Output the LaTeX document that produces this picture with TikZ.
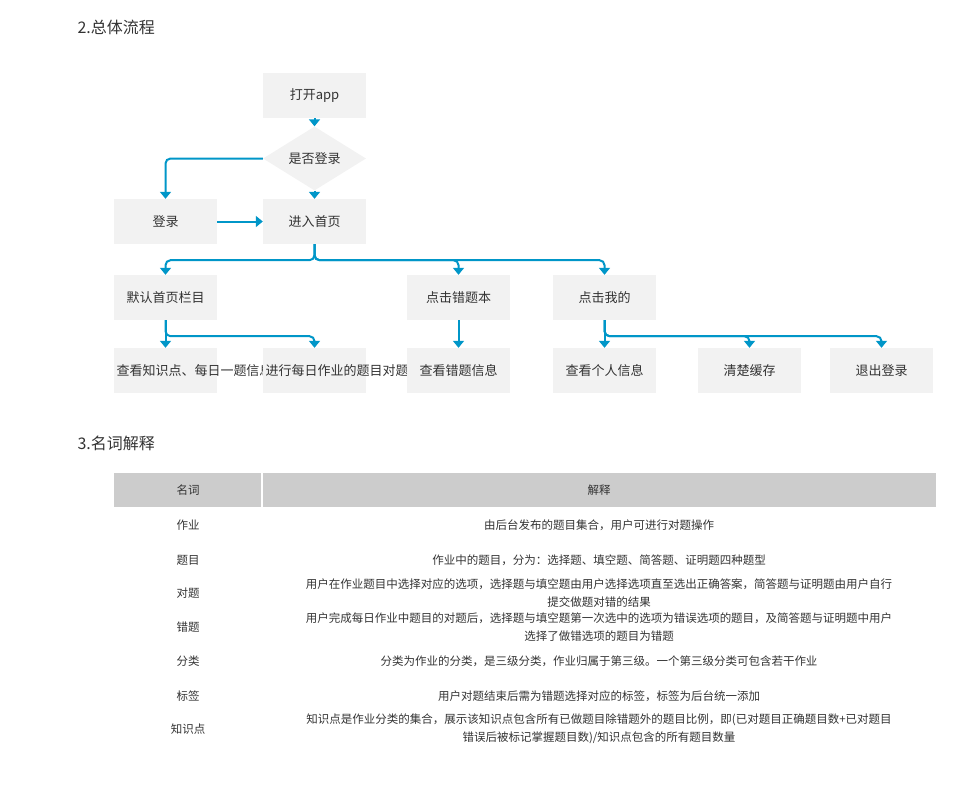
\documentclass[tikz,border=0pt]{standalone}
\usepackage{fontspec}
\setmainfont{Noto Sans CJK SC}
\usetikzlibrary{arrows.meta,shapes.geometric}
\definecolor{ln}{RGB}{0,150,200}
\definecolor{bx}{RGB}{242,242,242}
\definecolor{tx}{RGB}{51,51,51}
\definecolor{hd}{RGB}{204,204,204}
\begin{document}
\begin{tikzpicture}[x=1pt,y=-1pt,
  box/.style={fill=bx,minimum width=103pt,minimum height=45pt,inner sep=1pt,align=center,font=\fontsize{13}{14.5}\selectfont,text=tx,text width=98pt},
  con/.style={draw=ln,line width=2pt,rounded corners=5pt,-{Triangle[width=11pt,length=7pt]}},
  cell/.style={font=\fontsize{11.5}{18}\selectfont,text=tx,align=center}]
\useasboundingbox (0,0) rectangle (970,809);
\node[anchor=west,font=\fontsize{16}{18}\selectfont,text=tx] (h1) at (74,27) {2.总体流程};
\node[anchor=west,font=\fontsize{16}{18}\selectfont,text=tx] (h2) at (74,443) {3.名词解释};
\node[box] (open) at (314.5,95.5) {打开app};
\node[diamond,fill=bx,minimum width=103pt,minimum height=45pt,inner sep=0pt,font=\fontsize{13}{14.5}\selectfont,text=tx] (q) at (314.5,158.5) {是否登录};
\node[box] (login) at (165.5,221.5) {登录};
\node[box] (home) at (314.5,221.5) {进入首页};
\node[box] (def) at (165.5,297.5) {默认首页栏目};
\node[box] (wrong) at (458.5,297.5) {点击错题本};
\node[box] (me) at (604.5,297.5) {点击我的};
\node[box] (know) at (165.5,370.5) {查看知识点、每日一题信息};
\node[box] (daily) at (314.5,370.5) {进行每日作业的题目对题};
\node[box] (wi) at (458.5,370.5) {查看错题信息};
\node[box] (pi) at (604.5,370.5) {查看个人信息};
\node[box] (cc) at (749.5,370.5) {清楚缓存};
\node[box] (lo) at (881.5,370.5) {退出登录};
\draw[con] (open) -- (q);
\draw[con] (q) -- (home);
\draw[con] (q.west) -| (login.north);
\draw[con] (login) -- (home);
\draw[con] (home.south) -- ++(0,16) -| (def.north);
\draw[con] (home.south) -- ++(0,16) -| (wrong.north);
\draw[con] (home.south) -- ++(0,16) -| (me.north);
\draw[con] (def.south) -- ++(0,16) -| (know.north);
\draw[con] (def.south) -- ++(0,16) -| (daily.north);
\draw[con] (wrong) -- (wi);
\draw[con] (me.south) -- ++(0,16) -| (pi.north);
\draw[con] (me.south) -- ++(0,16) -| (cc.north);
\draw[con] (me.south) -- ++(0,16) -| (lo.north);
% table
\fill[hd] (114,473) rectangle (936,507);
\draw[white,line width=1.2pt] (262,473) -- (262,507);
\node[cell] (t0) at (188,490) {名词};
\node[cell] (e0) at (599,490) {解释};
\node[cell] (t1) at (188,525) {作业};
\node[cell] (e1) at (599,525) {由后台发布的题目集合，用户可进行对题操作};
\node[cell] (t2) at (188,560) {题目};
\node[cell] (e2) at (599,560) {作业中的题目，分为：选择题、填空题、简答题、证明题四种题型};
\node[cell] (t3) at (188,593) {对题};
\node[cell] (e3) at (599,593) {用户在作业题目中选择对应的选项，选择题与填空题由用户选择选项直至选出正确答案，简答题与证明题由用户自行\\提交做题对错的结果};
\node[cell] (t4) at (188,627) {错题};
\node[cell] (e4) at (599,627) {用户完成每日作业中题目的对题后，选择题与填空题第一次选中的选项为错误选项的题目，及简答题与证明题中用户\\选择了做错选项的题目为错题};
\node[cell] (t5) at (188,661) {分类};
\node[cell] (e5) at (599,661) {分类为作业的分类，是三级分类，作业归属于第三级。一个第三级分类可包含若干作业};
\node[cell] (t6) at (188,696) {标签};
\node[cell] (e6) at (599,696) {用户对题结束后需为错题选择对应的标签，标签为后台统一添加};
\node[cell] (t7) at (188,729) {知识点};
\node[cell] (e7) at (599,729) {知识点是作业分类的集合，展示该知识点包含所有已做题目除错题外的题目比例，即(已对题目正确题目数+已对题目\\错误后被标记掌握题目数)/知识点包含的所有题目数量};
\end{tikzpicture}
\end{document}
